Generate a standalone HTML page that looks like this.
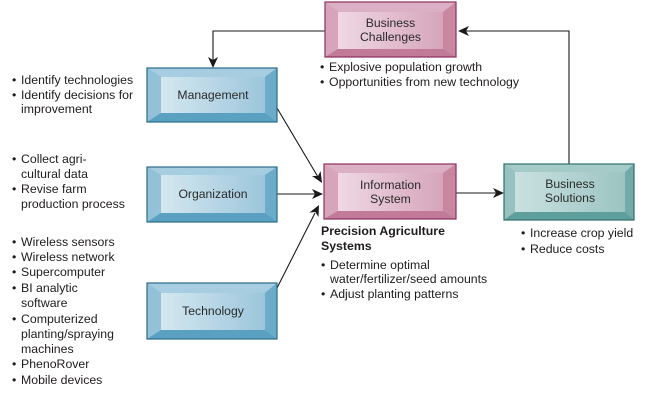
<!DOCTYPE html>
<html>
<head>
<meta charset="utf-8">
<style>
  html,body{margin:0;padding:0;background:#fff;}
  svg{display:block;}
  text{font-family:"Liberation Sans",Arial,sans-serif;font-size:12.3px;fill:#1f1b1c;}
  .lbl{fill:#2a2a2a;font-size:12.2px;}
  .b{font-weight:bold;}
</style>
</head>
<body>
<svg width="651" height="402" viewBox="0 0 651 402" xmlns="http://www.w3.org/2000/svg">
  <defs>
    <linearGradient id="gBlue" x1="0" y1="0" x2="1" y2="0">
      <stop offset="0" stop-color="#d4e7f0"/>
      <stop offset="1" stop-color="#9cc6db"/>
    </linearGradient>
    <linearGradient id="gPink" x1="0" y1="0" x2="1" y2="0">
      <stop offset="0" stop-color="#efd8e3"/>
      <stop offset="1" stop-color="#d6a5bb"/>
    </linearGradient>
    <linearGradient id="gTeal" x1="0" y1="0" x2="1" y2="0">
      <stop offset="0" stop-color="#c9e1e0"/>
      <stop offset="1" stop-color="#9cc4c2"/>
    </linearGradient>
  </defs>

  <!-- ===== Connectors ===== -->
  <g stroke="#1a1a1a" stroke-width="1.1" fill="none">
    <polyline points="325,31 213,31 213,62"/>
    <polyline points="569,164 569,31 464,31"/>
    <line x1="277" y1="108" x2="318" y2="177"/>
    <line x1="277" y1="194" x2="315" y2="194"/>
    <line x1="277" y1="288" x2="315" y2="213"/>
    <line x1="456" y1="193" x2="496" y2="193"/>
  </g>
  <g fill="#1a1a1a">
    <polygon points="213,68 208,57 213,60 218,57"/>
    <polygon points="458,31 469,26 466,31 469,36"/>
    <polygon points="322,183 312,176 318,176 320.6,171"/>
    <polygon points="323,194 312,189 315,194 312,199"/>
    <polygon points="319,205 318.5,217 315.4,212 309.5,212.5"/>
    <polygon points="504,193 493,188 496,193 493,198"/>
  </g>

  <!-- ===== Business Challenges (pink) ===== -->
  <g>
    <rect x="325" y="2" width="131" height="55" fill="#c8869f"/>
    <polygon points="325,2 456,2 443,12 338,12" fill="#dcb0c4"/>
    <polygon points="325,2 338,12 338,49 325,57" fill="#d6a5bb"/>
    <polygon points="325,57 456,57 443,49 338,49" fill="#c27a99"/>
    <polygon points="456,2 443,12 443,49 456,57" fill="#c8869f"/>
    <rect x="338" y="12" width="105" height="37" fill="url(#gPink)"/>
    <rect x="325" y="2" width="131" height="55" fill="none" stroke="#8b2f5f" stroke-width="1.2"/>
    <text class="lbl" x="390.5" y="27" text-anchor="middle">Business</text>
    <text class="lbl" x="390.5" y="41" text-anchor="middle">Challenges</text>
  </g>

  <!-- ===== Management (blue) ===== -->
  <g>
    <rect x="147" y="68" width="130" height="54" fill="#6cabc9"/>
    <polygon points="147,68 277,68 265,77 161,77" fill="#a6cde0"/>
    <polygon points="147,68 161,77 161,113 147,122" fill="#93c1d8"/>
    <polygon points="147,122 277,122 265,113 161,113" fill="#5aa1c1"/>
    <polygon points="277,68 265,77 265,113 277,122" fill="#6cabc9"/>
    <rect x="161" y="77" width="104" height="36" fill="url(#gBlue)"/>
    <rect x="147" y="68" width="130" height="54" fill="none" stroke="#2b6a8a" stroke-width="1.2"/>
    <text class="lbl" x="213" y="99" text-anchor="middle">Management</text>
  </g>

  <!-- ===== Organization (blue) ===== -->
  <g>
    <rect x="147" y="167" width="130" height="55" fill="#6cabc9"/>
    <polygon points="147,167 277,167 265,175 161,175" fill="#a6cde0"/>
    <polygon points="147,167 161,175 161,213 147,222" fill="#93c1d8"/>
    <polygon points="147,222 277,222 265,213 161,213" fill="#5aa1c1"/>
    <polygon points="277,167 265,175 265,213 277,222" fill="#6cabc9"/>
    <rect x="161" y="175" width="104" height="38" fill="url(#gBlue)"/>
    <rect x="147" y="167" width="130" height="55" fill="none" stroke="#2b6a8a" stroke-width="1.2"/>
    <text class="lbl" x="213" y="198" text-anchor="middle">Organization</text>
  </g>

  <!-- ===== Technology (blue) ===== -->
  <g>
    <rect x="147" y="283" width="130" height="56" fill="#6cabc9"/>
    <polygon points="147,283 277,283 265,293 161,293" fill="#a6cde0"/>
    <polygon points="147,283 161,293 161,330 147,339" fill="#93c1d8"/>
    <polygon points="147,339 277,339 265,330 161,330" fill="#5aa1c1"/>
    <polygon points="277,283 265,293 265,330 277,339" fill="#6cabc9"/>
    <rect x="161" y="293" width="104" height="37" fill="url(#gBlue)"/>
    <rect x="147" y="283" width="130" height="56" fill="none" stroke="#2b6a8a" stroke-width="1.2"/>
    <text class="lbl" x="213" y="315" text-anchor="middle">Technology</text>
  </g>

  <!-- ===== Information System (pink) ===== -->
  <g>
    <rect x="324" y="164" width="132" height="55" fill="#c8869f"/>
    <polygon points="324,164 456,164 443,173 338,173" fill="#dcb0c4"/>
    <polygon points="324,164 338,173 338,211 324,219" fill="#d6a5bb"/>
    <polygon points="324,219 456,219 443,211 338,211" fill="#c27a99"/>
    <polygon points="456,164 443,173 443,211 456,219" fill="#c8869f"/>
    <rect x="338" y="173" width="105" height="38" fill="url(#gPink)"/>
    <rect x="324" y="164" width="132" height="55" fill="none" stroke="#8b2f5f" stroke-width="1.2"/>
    <text class="lbl" x="390.5" y="189" text-anchor="middle">Information</text>
    <text class="lbl" x="390.5" y="203" text-anchor="middle">System</text>
  </g>

  <!-- ===== Business Solutions (teal) ===== -->
  <g>
    <rect x="504" y="164" width="130" height="56" fill="#72aaa8"/>
    <polygon points="504,164 634,164 625,172 515,172" fill="#a5cbc9"/>
    <polygon points="504,164 515,172 515,212 504,220" fill="#98c2c1"/>
    <polygon points="504,220 634,220 625,212 515,212" fill="#5e9f9d"/>
    <polygon points="634,164 625,172 625,212 634,220" fill="#72aaa8"/>
    <rect x="515" y="172" width="110" height="40" fill="url(#gTeal)"/>
    <rect x="504" y="164" width="130" height="56" fill="none" stroke="#2f6e6c" stroke-width="1.2"/>
    <text class="lbl" x="570" y="188" text-anchor="middle">Business</text>
    <text class="lbl" x="570" y="202" text-anchor="middle">Solutions</text>
  </g>

  <!-- ===== Challenge bullets ===== -->
  <text x="320" y="71">•</text><text x="329" y="71">Explosive population growth</text>
  <text x="320" y="86">•</text><text x="329" y="86">Opportunities from new technology</text>

  <!-- ===== Management list ===== -->
  <text x="12" y="84">•</text><text x="21" y="84">Identify technologies</text>
  <text x="12" y="99">•</text><text x="21" y="99">Identify decisions for</text>
  <text x="21" y="113">improvement</text>

  <!-- ===== Organization list ===== -->
  <text x="12" y="163">•</text><text x="21" y="163">Collect agri-</text>
  <text x="21" y="178">cultural data</text>
  <text x="12" y="193">•</text><text x="21" y="193">Revise farm</text>
  <text x="21" y="208">production process</text>

  <!-- ===== Technology list ===== -->
  <text x="12" y="246">•</text><text x="21" y="246">Wireless sensors</text>
  <text x="12" y="261">•</text><text x="21" y="261">Wireless network</text>
  <text x="12" y="276">•</text><text x="21" y="276">Supercomputer</text>
  <text x="12" y="292">•</text><text x="21" y="292">BI analytic</text>
  <text x="21" y="307">software</text>
  <text x="12" y="323">•</text><text x="21" y="323">Computerized</text>
  <text x="21" y="338">planting/spraying</text>
  <text x="21" y="353">machines</text>
  <text x="12" y="368">•</text><text x="21" y="368">PhenoRover</text>
  <text x="12" y="384">•</text><text x="21" y="384">Mobile devices</text>

  <!-- ===== Precision Agriculture ===== -->
  <text class="b" x="321" y="235">Precision Agriculture</text>
  <text class="b" x="321" y="250">Systems</text>
  <text x="321" y="269">•</text><text x="330" y="269">Determine optimal</text>
  <text x="330" y="283">water/fertilizer/seed amounts</text>
  <text x="321" y="298">•</text><text x="330" y="298">Adjust planting patterns</text>

  <!-- ===== Solutions bullets ===== -->
  <text x="521" y="237">•</text><text x="530" y="237">Increase crop yield</text>
  <text x="521" y="253">•</text><text x="530" y="253">Reduce costs</text>
</svg>
</body>
</html>
